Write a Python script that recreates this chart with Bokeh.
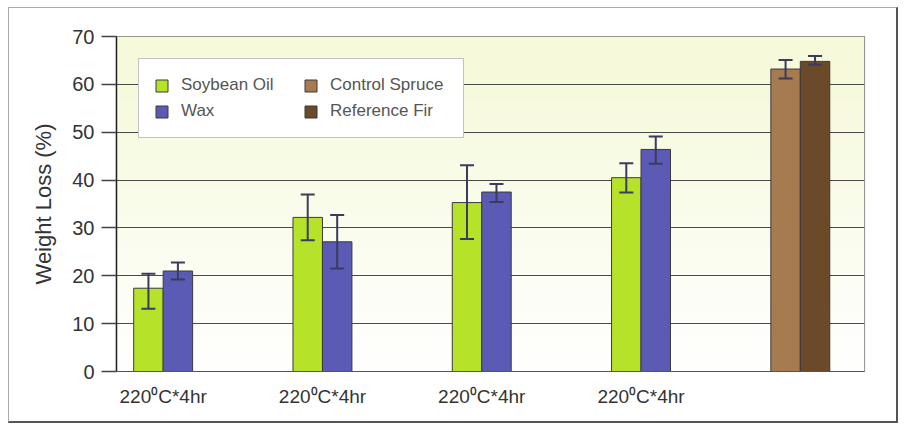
import numpy as np
from bokeh.plotting import figure
from bokeh.models import (ColumnDataSource, Whisker, TeeHead, FixedTicker,
                          Legend, LegendItem)
from bokeh.embed import file_html
from bokeh.resources import INLINE

# ---------------- data ----------------
group_labels = ["220\u2070C*4hr", "220\u2070C*4hr", "220\u2070C*4hr", "220\u2070C*4hr", ""]
group_pos = [1, 2, 3, 4, 5]

soy_mean = [17.4, 32.2, 35.3, 40.5]
soy_low = [13.1, 27.4, 27.7, 37.4]
soy_high = [20.4, 37.0, 43.1, 43.5]

wax_mean = [21.0, 27.1, 37.5, 46.4]
wax_low = [19.2, 21.5, 35.4, 43.4]
wax_high = [22.8, 32.7, 39.2, 49.1]

spruce_mean = [63.2]
spruce_low = [61.2]
spruce_high = [65.1]

fir_mean = [64.8]
fir_low = [64.1]
fir_high = [65.9]

series_names = ["Soybean Oil", "Wax", "Control Spruce", "Reference Fir"]
colors = ["#b7e22a", "#5b5bb6", "#a67b50", "#6b4a2a"]

y_ticks = [0, 10, 20, 30, 40, 50, 60, 70]

# ---------------- figure ----------------
X0, X1 = 0.707, 5.403
BW = 0.185
FONT = "Liberation Sans"

p = figure(frame_width=748, frame_height=335,
           x_range=(X0, X1), y_range=(0, 70),
           output_backend="svg", toolbar_location=None,
           min_border_left=107, min_border_top=28, min_border_right=32,
           min_border_bottom=50)
p.styles = {"margin-left": "8px", "margin-top": "7px",
            "border-left": "1px solid #aaaaaa", "border-top": "1px solid #aaaaaa",
            "border-right": "2px solid #555555", "border-bottom": "2px solid #555555"}

# gradient background (style only)
n = 200
t = np.linspace(0, 1, n)[:, None]  # 0 bottom .. 1 top
top = np.array([246, 250, 218])
bot = np.array([255, 255, 255])
w = np.clip(t * 1.1, 0, 1)
rgb = (bot * (1 - w) + top * w).astype(np.uint32)
img = np.empty((n, 2), dtype=np.uint32)
view = img.view(dtype=np.uint8).reshape((n, 2, 4))
view[:, :, 0] = rgb[:, 0][:, None]
view[:, :, 1] = rgb[:, 1][:, None]
view[:, :, 2] = rgb[:, 2][:, None]
view[:, :, 3] = 255
bg = p.image_rgba(image=[img], x=X0, y=0, dw=X1 - X0, dh=70)
bg.level = "image"

p.xgrid.visible = False
p.ygrid.grid_line_color = "#4a4a4a"
p.ygrid.grid_line_width = 1.2
p.ygrid.ticker = FixedTicker(ticks=y_ticks)
p.outline_line_color = "#777777"
p.outline_line_width = 1.2

err_color = "#3b3b5e"

def add_series(xs, mean, low, high, color):
    src = ColumnDataSource(dict(x=xs, top=mean, lower=low, upper=high))
    r = p.vbar(x="x", top="top", width=BW, bottom=0, source=src,
               fill_color=color, line_color="#3a3a3a", line_width=1)
    wk = Whisker(source=src, base="x", upper="upper", lower="lower",
                 line_color=err_color, line_width=2, level="annotation",
                 upper_head=TeeHead(size=14, line_color=err_color, line_width=2),
                 lower_head=TeeHead(size=14, line_color=err_color, line_width=2))
    p.add_layout(wk)
    return r

g = group_pos
r1 = add_series([x - BW / 2 for x in g[:4]], soy_mean, soy_low, soy_high, colors[0])
r2 = add_series([x + BW / 2 for x in g[:4]], wax_mean, wax_low, wax_high, colors[1])
r3 = add_series([g[4] - BW / 2], spruce_mean, spruce_low, spruce_high, colors[2])
r4 = add_series([g[4] + BW / 2], fir_mean, fir_low, fir_high, colors[3])

# axes
p.yaxis.ticker = FixedTicker(ticks=y_ticks)
p.yaxis.axis_label = "Weight Loss (%)"
p.yaxis.axis_label_text_font = FONT
p.yaxis.axis_label_text_font_size = "22px"
p.yaxis.axis_label_text_font_style = "normal"
p.yaxis.axis_label_text_color = "#333333"
p.yaxis.axis_label_standoff = 13
p.yaxis.major_label_text_font = FONT
p.yaxis.major_label_text_font_size = "20px"
p.yaxis.major_label_text_color = "#333333"
p.yaxis.major_label_standoff = 7
p.yaxis.major_tick_out = 15
p.yaxis.major_tick_in = 0
p.yaxis.major_tick_line_color = "#444444"
p.yaxis.major_tick_line_width = 1.5
p.yaxis.minor_tick_line_color = None
p.yaxis.axis_line_color = "#222222"
p.yaxis.axis_line_width = 1.5

p.xaxis.ticker = FixedTicker(ticks=group_pos[:4])
p.xaxis.major_label_overrides = {float(x): lab for x, lab in zip(group_pos, group_labels) if lab}
p.xaxis.major_label_text_font = FONT
p.xaxis.major_label_text_font_size = "19px"
p.xaxis.major_label_text_color = "#333333"
p.xaxis.major_label_standoff = 8
p.xaxis.major_tick_line_color = None
p.xaxis.minor_tick_line_color = None
p.xaxis.axis_line_color = "#555555"
p.xaxis.axis_line_width = 1.2

legend = Legend(items=[LegendItem(label=series_names[0], renderers=[r1]),
                       LegendItem(label=series_names[1], renderers=[r2]),
                       LegendItem(label=series_names[2], renderers=[r3]),
                       LegendItem(label=series_names[3], renderers=[r4])],
                location=(22, 233), orientation="vertical", nrows=2)
legend.label_text_font = FONT
legend.label_text_font_size = "17px"
legend.label_text_color = "#555555"
legend.label_width = 118
legend.label_height = 22
legend.glyph_width = 15
legend.glyph_height = 15
legend.label_standoff = 12
legend.spacing = 4
legend.padding = 15
legend.border_line_color = "#888888"
legend.border_line_width = 1.5
legend.background_fill_color = "white"
legend.background_fill_alpha = 1.0
p.add_layout(legend, "center")

open("out.html", "w").write(file_html(p, INLINE))
